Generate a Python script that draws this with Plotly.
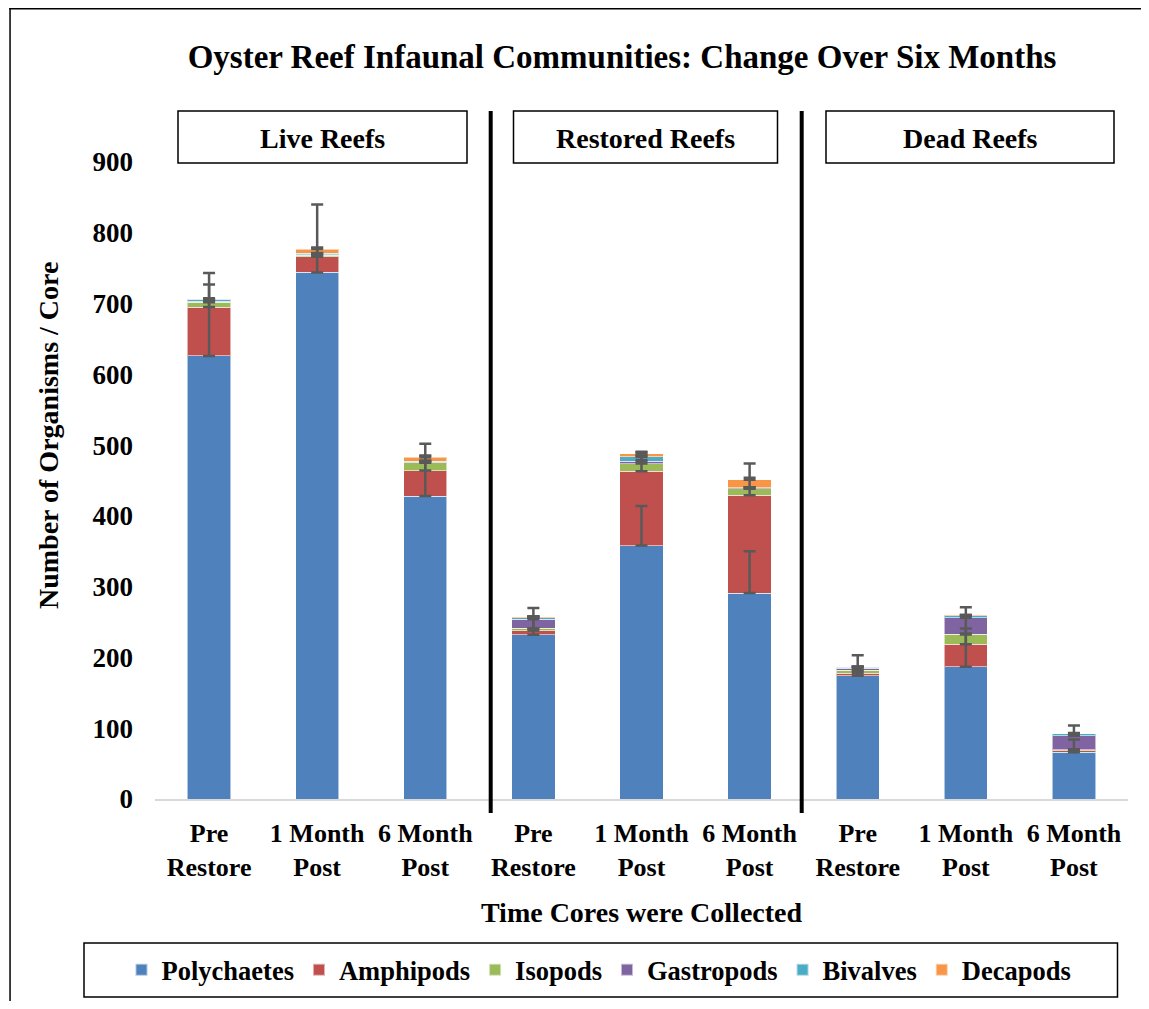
import plotly.graph_objects as go
import numpy as np

# ---------------- data ----------------
tick_labels = ["Pre<br>Restore", "1 Month<br>Post", "6 Month<br>Post",
               "Pre<br>Restore", "1 Month<br>Post", "6 Month<br>Post",
               "Pre<br>Restore", "1 Month<br>Post", "6 Month<br>Post"]
group_labels = ["Live Reefs", "Restored Reefs", "Dead Reefs"]
series_names = ["Polychaetes", "Amphipods", "Isopods", "Gastropods", "Bivalves", "Decapods"]

polychaetes = [626, 744, 428, 232, 358, 291, 174, 187, 66]
amphipods = [69, 22, 36, 6, 105, 138, 3.5, 31.5, 2]
isopods = [7, 2, 11, 3, 11, 9.5, 4.5, 14, 1.7]
gastropods = [1, 1, 1, 13, 3, 1, 3, 23.5, 19.8]
bivalves = [3, 2, 1, 2, 6.5, 0.5, 1.5, 3, 2.5]
decapods = [1, 6, 6, 1, 4.5, 11, 0.5, 0.5, 0.5]

err_polychaetes = [101, 96, 57, 9, 56, 59, 29, 84, 18]
err_amphipods = [48, 13, 38, 20, 27, 45, 2.5, 22.5, 0.5]
err_isopods = [4, 3, 3, 29, 5, 2, 5, 1.5, 0.5]
err_gastropods = [2, 2, 1.5, 4, 8, 1, 2, 4, 14.5]
err_bivalves = [0.5, 0.5, 0.5, 2, 1.5, 0.5, 0.5, 1, 1.2]
err_decapods = [0.5, 2, 2, 1, 2.5, 3, 0, 0, 0]

colors = ["#4F81BD", "#C0504D", "#9BBB59", "#8064A2", "#4BACC6", "#F79646"]

values = [polychaetes, amphipods, isopods, gastropods, bivalves, decapods]
errors = [err_polychaetes, err_amphipods, err_isopods, err_gastropods, err_bivalves, err_decapods]

FONT = "Liberation Serif"

# ---------------- geometry helpers ----------------
FIG_W, FIG_H = 1133, 993
OFF = 8  # page body margin
L, R, T, B = 147, 13, 154, 202
PW = FIG_W - L - R
PH = FIG_H - T - B


def px(X):
    return (X - OFF - L) / PW


def py(Y):
    return (FIG_H - B - (Y - OFF)) / PH


x_idx = list(range(len(tick_labels)))

fig = go.Figure()
for name, vals, col in zip(series_names, values, colors):
    fig.add_trace(go.Bar(
        x=x_idx, y=vals, name=name,
        marker=dict(color=col, line=dict(color="rgba(255,255,255,0.55)", width=1)),
        width=0.4,
    ))

# error bars drawn on top at segment tops
cum = np.zeros(len(x_idx))
for name, vals, errs in zip(series_names, values, errors):
    cum = cum + np.array(vals, dtype=float)
    fig.add_trace(go.Scatter(
        x=x_idx, y=cum.tolist(), mode="markers",
        marker=dict(size=1, opacity=0),
        error_y=dict(type="data", array=errs, symmetric=False,
                     arrayminus=[0] * len(errs),
                     color="#595959", thickness=2.5, width=6),
        showlegend=False, hoverinfo="skip",
    ))

shapes = []
# outer chart frame: left and top edges drawn as thin filled strips
shapes.append(dict(type="rect", xref="paper", yref="paper",
                   x0=px(9.3), x1=px(10.8), y0=py(8), y1=py(1012),
                   fillcolor="black", line=dict(width=0)))
shapes.append(dict(type="rect", xref="paper", yref="paper",
                   x0=px(9.3), x1=px(1160), y0=py(8), y1=py(9.5),
                   fillcolor="black", line=dict(width=0)))
# group separators
for X in (490.7, 801.7):
    shapes.append(dict(type="line", xref="paper", yref="paper",
                       x0=px(X), x1=px(X), y0=py(111), y1=py(813),
                       line=dict(color="black", width=4)))
# group label boxes
boxes = [(178, 467), (513.5, 777.5), (826, 1114)]
annotations = []
for (x0, x1), lab in zip(boxes, group_labels):
    shapes.append(dict(type="rect", xref="paper", yref="paper",
                       x0=px(x0), x1=px(x1), y0=py(111), y1=py(163),
                       line=dict(color="black", width=1.5), fillcolor="white"))
    annotations.append(dict(text=lab, xref="paper", yref="paper",
                            x=px((x0 + x1) / 2), y=py(138), showarrow=False,
                            xanchor="center", yanchor="middle",
                            font=dict(family=FONT, size=28, color="black", weight="bold")))
# legend box
shapes.append(dict(type="rect", xref="paper", yref="paper",
                   x0=px(84), x1=px(1117.5), y0=py(943), y1=py(997),
                   line=dict(color="black", width=1.5)))

# y-axis title (placed like the original, above plot centre)
annotations.append(dict(text="Number of Organisms / Core", xref="paper", yref="paper",
                        x=px(48), y=py(436), showarrow=False, textangle=-90,
                        xanchor="center", yanchor="middle",
                        font=dict(family=FONT, size=28, color="black", weight="bold")))

fig.update_layout(
    width=FIG_W, height=FIG_H,
    margin=dict(l=L, r=R, t=T, b=B, pad=0, autoexpand=False),
    paper_bgcolor="white", plot_bgcolor="white",
    barmode="stack",
    font=dict(family=FONT, color="black"),
    title=dict(text="Oyster Reef Infaunal Communities: Change Over Six Months",
               x=px(622), xref="paper", xanchor="center",
               y=1 - (56 - OFF) / FIG_H, yanchor="middle",
               font=dict(family=FONT, size=33, color="black", weight="bold")),
    xaxis=dict(tickmode="array", tickvals=x_idx, ticktext=tick_labels,
               range=[-0.5, len(x_idx) - 0.5],
               showgrid=False, zeroline=False,
               showline=True, linecolor="#D9D9D9", linewidth=1.5,
               ticks="", ticklabelstandoff=10,
               tickfont=dict(family=FONT, size=26, color="black", weight="bold"),
               title=dict(text="Time Cores were Collected", standoff=22,
                          font=dict(family=FONT, size=28, color="black", weight="bold"))),
    yaxis=dict(range=[0, 900], tickvals=list(range(0, 901, 100)),
               showgrid=False, zeroline=False, showline=False, ticks="",
               ticklabelstandoff=21,
               tickfont=dict(family=FONT, size=27, color="black", weight="bold")),
    legend=dict(orientation="h", x=(599 - OFF) / FIG_W, xanchor="center", xref="container",
                y=1 - (970 - OFF) / FIG_H, yanchor="middle", yref="container",
                bgcolor="rgba(0,0,0,0)", borderwidth=0, itemwidth=30,
                font=dict(family=FONT, size=26.5, color="black", weight="bold"),
                traceorder="normal", itemsizing="constant"),
    shapes=shapes,
    annotations=annotations,
    bargap=0.6,
)

fig.write_html("out.html")
